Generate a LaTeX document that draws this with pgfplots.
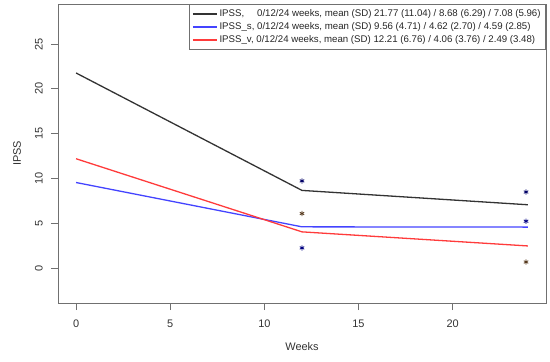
\documentclass[border=0pt]{standalone}
\usepackage{pgfplots}
\pgfplotsset{compat=1.18}
\usepackage{graphicx}
\usepackage{fontspec}
\setmainfont{Liberation Sans}
\definecolor{rblack}{HTML}{333333}
\definecolor{rblue}{HTML}{4444FF}
\definecolor{rred}{HTML}{FF3B3B}
\definecolor{boxgray}{HTML}{707070}
\begin{document}
\begin{tikzpicture}
\useasboundingbox (-58bp,-59bp) rectangle (492bp,303bp);
\begin{axis}[
  at={(0,0)}, anchor=south west,
  scale only axis, width=488bp, height=299bp,
  xmin=-0.96, xmax=24.96, ymin=-3.87, ymax=29.46,
  xtick={0,5,10,15,20}, ytick={0,5,10,15,20,25},
  tick align=outside, major tick length=7bp,
  every tick/.style={boxgray, line width=0.8bp},
  axis line style={boxgray, line width=0.8bp},
  xtick pos=bottom, ytick pos=left,
  /pgf/number format/assume math mode=true,
  every x tick label/.style={font=\fontsize{11}{13}\selectfont, text=black!80, anchor=north, inner sep=0pt},
  every y tick label/.style={font=\fontsize{11}{13}\selectfont, text=black!80, anchor=east, inner sep=0pt},
  yticklabel={\rotatebox{90}{\pgfmathprintnumber{\tick}}},
  yticklabel shift=8bp,
  xticklabel shift=10bp,
  xlabel={Weeks}, ylabel={IPSS},
  label style={font=\fontsize{11}{13}\selectfont, text=black!80},
  xlabel style={at={(axis description cs:0.5,-0.147)}, anchor=center},
  ylabel style={at={(axis description cs:-0.084,0.5)}, anchor=center, rotate=0},
  legend cell align=left,
  legend style={at={(1,1)}, anchor=north east, draw=boxgray, line width=0.8bp,
    font=\fontsize{9.7}{11}\selectfont, row sep=0.5bp, inner xsep=3bp, inner ysep=3.5bp, text=black!85},
  legend image code/.code={\path (0bp,0bp) -- (24bp,0bp); \draw[#1, line width=1.3bp] (5bp,0bp) -- (21bp,0bp);},
]
\addplot[rblack, line width=1.3bp] coordinates {(0,21.77) (12,8.68) (24,7.08)};
\addlegendentry{IPSS,\hphantom{\_s} 0/12/24 weeks, mean (SD) 21.77 (11.04) / 8.68 (6.29) / 7.08 (5.96)}
\addplot[rblue, line width=1.3bp] coordinates {(0,9.56) (12,4.62) (24,4.59)};
\addlegendentry{IPSS\_s, 0/12/24 weeks, mean (SD) 9.56 (4.71) / 4.62 (2.70) / 4.59 (2.85)}
\addplot[rred, line width=1.3bp] coordinates {(0,12.21) (12,4.06) (24,2.49)};
\addlegendentry{IPSS\_v, 0/12/24 weeks, mean (SD) 12.21 (6.76) / 4.06 (3.76) / 2.49 (3.48)}
\addplot[only marks, mark=asterisk, mark size=2.6bp, line width=0.8bp, color=black!60!blue, forget plot] coordinates {(12,9.74) (23.9,8.5)};
\addplot[only marks, mark=asterisk, mark size=2.6bp, line width=0.8bp, color=black!55!brown, forget plot] coordinates {(12,6.1) (23.9,0.7)};
\addplot[only marks, mark=asterisk, mark size=2.6bp, line width=0.8bp, color=blue!50!black, forget plot] coordinates {(12,2.27) (23.9,5.25)};
\end{axis}
\end{tikzpicture}
\end{document}
